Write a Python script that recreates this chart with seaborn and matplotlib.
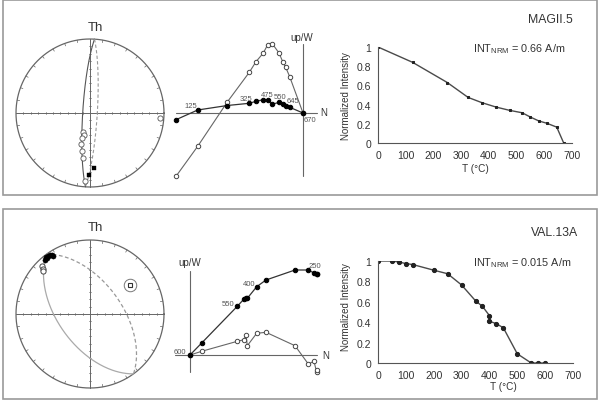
import numpy as np
import matplotlib
matplotlib.use("Agg")
import matplotlib.pyplot as plt
import seaborn as sns
from matplotlib.patches import Rectangle

W, H = 600, 402

# thermal demagnetisation curves
t_magii = [0, 125, 250, 325, 375, 425, 475, 520, 550, 580, 610, 645, 670]
int_magii = [1.0, 0.84, 0.63, 0.475, 0.42, 0.375, 0.34, 0.315, 0.27, 0.23, 0.205, 0.165, 0.0]
t_val = [0, 50, 75, 100, 125, 200, 250, 300, 350, 375, 400, 400, 425, 450, 500, 550, 575, 600]
int_val = [1.0, 1.0, 0.99, 0.975, 0.965, 0.91, 0.875, 0.765, 0.61, 0.555, 0.465, 0.41,
           0.385, 0.345, 0.09, 0.0, 0.0, 0.0]

# Zijderveld diagrams (arbitrary units)
zij_magii_n = [-127, -105.3, -75.7, -53.7, -47, -39.7, -35.3, -30.7, -24, -20, -17.3, -13.3, 0]
zij_magii_h = [-6.7, 3, 7.5, 9.7, 11.7, 13.3, 13.3, 8.7, 10.7, 8.7, 7.3, 5.7, 0]
zij_magii_v = [-63.3, -33.3, 11, 40.7, 51.3, 60, 68.3, 69.3, 60, 50.7, 45.7, 36.3, 0]
zij_magii_lab = ["125", "325", "475", "550", "645", "670"]
zij_magii_lab_idx = [1, 3, 6, 8, 11, 12]

zij_val_n = [0, 11.7, 47.3, 54, 56, 57.3, 66.7, 76, 105, 118.3, 124, 126.5, 127.3]
zij_val_h = [0, 12, 48.7, 56, 57.3, 56.7, 68.3, 75, 85, 85, 82, 81, 80.7]
zij_val_v = [0, 3.7, 13.7, 15.3, 20, 9.3, 21.7, 22.7, 9.3, -9, -6.3, -16.7, -14.7]
zij_val_lab = ["600", "550", "400", "250"]
zij_val_lab_idx = [0, 2, 6, 12]

# stereonets (equal-area, unit radius)
st_magii_open_x = [-0.099, -0.081, -0.112, -0.122, -0.112, -0.099, -0.068, 0.946]
st_magii_open_y = [-0.253, -0.297, -0.342, -0.419, -0.509, -0.613, -0.914, -0.072]
st_magii_fill_x = [0.058, -0.009]
st_magii_fill_y = [-0.748, -0.838]
gc_magii = (183.5, 82)

st_val_fill_x = [-0.595, -0.568, -0.541, -0.514, -0.50, -0.581, -0.608]
st_val_fill_y = [0.770, 0.784, 0.797, 0.797, 0.784, 0.757, 0.730]
st_val_open_x = [-0.653, -0.639, -0.631]
st_val_open_y = [0.653, 0.608, 0.577]
st_val_mean = (0.54, 0.39)
gc_val = (144, 55)

LINE = "#4a4a4a"
TXT = "#333333"


def fr(x0, y0, x1, y1):
    return [x0 / W, 1 - y1 / H, (x1 - x0) / W, (y1 - y0) / H]


def ftext(x, y, s, **kw):
    fig.text(x / W, 1 - y / H, s, color=TXT, **kw)


def great_circle(strike, dip, n=181):
    s = np.radians(strike)
    d = np.radians(dip)
    dd = s + np.pi / 2
    t = np.linspace(0, np.pi, n)
    sv = np.array([np.sin(s), np.cos(s), 0.0])
    dv = np.array([np.sin(dd) * np.cos(d), np.cos(dd) * np.cos(d), np.sin(d)])
    v = np.outer(np.cos(t), sv) + np.outer(np.sin(t), dv)
    plunge = np.arcsin(np.clip(v[:, 2], -1, 1))
    az = np.arctan2(v[:, 0], v[:, 1])
    r = np.sqrt(2) * np.sin((np.pi / 2 - plunge) / 2)
    return r * np.sin(az), r * np.cos(az)


def stereonet(ax):
    lim = 78 / 74
    ax.set_xlim(-lim, lim)
    ax.set_ylim(-lim, lim)
    ax.axis("off")
    a = np.linspace(0, 2 * np.pi, 361)
    ax.plot(np.cos(a), np.sin(a), color="#666666", lw=0.9)
    ax.plot([-1, 1], [0, 0], color="#666666", lw=0.7)
    ax.plot([0, 0], [-1, 1], color="#666666", lw=0.7)
    for k in np.arange(-0.9, 0.91, 0.1):
        if abs(k) < 1e-6:
            continue
        ax.plot([k, k], [-0.018, 0.018], color="#666666", lw=0.5)
        ax.plot([-0.018, 0.018], [k, k], color="#666666", lw=0.5)
    for ang in np.radians(np.arange(0, 360, 10)):
        ax.plot([np.cos(ang), 0.965 * np.cos(ang)], [np.sin(ang), 0.965 * np.sin(ang)],
                color="#666666", lw=0.5)


def demag(ax, t, m, ms, marker):
    sns.lineplot(x=t, y=m, ax=ax, estimator=None, sort=False, color=LINE, lw=1,
                 marker=marker, markersize=ms, markeredgecolor="#222222",
                 markerfacecolor="#222222")
    ax.set_xlim(0, 700)
    ax.set_ylim(0, 1)
    ax.set_xticks(range(0, 701, 100))
    ax.set_yticks([0, 0.2, 0.4, 0.6, 0.8, 1.0])
    ax.set_yticklabels(["0", "0.2", "0.4", "0.6", "0.8", "1"])
    ax.set_facecolor("none")
    for sp in ["top", "right"]:
        ax.spines[sp].set_visible(False)
    for sp in ["left", "bottom"]:
        ax.spines[sp].set_color("#555555")
        ax.spines[sp].set_linewidth(0.8)
    ax.spines["bottom"].set_clip_on(False)
    ax.tick_params(direction="out", length=3, width=0.6, colors="#555555",
                   labelcolor=TXT, labelsize=7.5, pad=2)
    ax.set_xlabel("")
    ax.set_ylabel("")


def zijderveld(ax, n, h, v, labels, lab_idx, offsets, xlim, ylim, hax, vax):
    ax.set_xlim(*xlim)
    ax.set_ylim(*ylim)
    ax.axis("off")
    ax.plot(hax, [0, 0], color="#666666", lw=0.8)
    ax.plot([0, 0], vax, color="#666666", lw=0.8)
    sns.lineplot(x=n, y=v, ax=ax, estimator=None, sort=False, color="#666666", lw=0.8,
                 marker="o", markersize=3.2, markerfacecolor="white",
                 markeredgecolor="#444444", markeredgewidth=0.7)
    sns.lineplot(x=n, y=h, ax=ax, estimator=None, sort=False, color="#333333", lw=0.9,
                 marker="o", markersize=3.2, markerfacecolor="black",
                 markeredgecolor="black")
    for s, i, (dx, dy) in zip(labels, lab_idx, offsets):
        ax.text(n[i] + dx, h[i] + dy, s, fontsize=5.5, color="#555555",
                ha="center", va="center")


sns.set_style("white")
plt.rcParams["font.family"] = ["Liberation Sans", "DejaVu Sans"]
plt.rcParams["mathtext.fontset"] = "custom"
plt.rcParams["mathtext.rm"] = "Liberation Sans"

fig = plt.figure(figsize=(6, 4.02), dpi=100)
fig.patch.set_facecolor("white")
fig.patches.append(Rectangle((3 / W, 1 - 196 / H), 594 / W, 195 / H, transform=fig.transFigure,
                             fill=False, ec="#9a9a9a", lw=1.2))
fig.patches.append(Rectangle((3 / W, 1 - 400 / H), 594 / W, 190 / H, transform=fig.transFigure,
                             fill=False, ec="#9a9a9a", lw=1.2))

# ---- top row: MAGII.5 ----
ax = fig.add_axes(fr(12, 36, 168, 192))
stereonet(ax)
gx, gy = great_circle(*gc_magii)
ax.plot(gx, gy, color="#555555", lw=0.8)
ax.plot(-gx, -gy, color="#999999", lw=0.8, ls=(0, (3, 2)))
sns.scatterplot(x=st_magii_open_x, y=st_magii_open_y, ax=ax, marker="o", s=14,
                facecolor="white", edgecolor="#555555", linewidth=0.6, zorder=5)
sns.scatterplot(x=st_magii_fill_x, y=st_magii_fill_y, ax=ax, marker="s", s=12,
                color="black", edgecolor="black", zorder=5)
ftext(95, 28, "Th", fontsize=9.5, ha="center", va="center")

ax = fig.add_axes(fr(165, 30, 335, 185))
zijderveld(ax, zij_magii_n, zij_magii_h, zij_magii_v, zij_magii_lab, zij_magii_lab_idx,
           [(-7, 5), (-3, 5), (0, 5), (1, 5.5), (3, 6.5), (7, -7)],
           (-138, 32), (-71, 84), [-127, 14], [-63, 69])
ftext(302, 38, "up/W", fontsize=7, ha="center", va="center")
ftext(320, 113, "N", fontsize=7, ha="left", va="center")

ax = fig.add_axes(fr(378, 48, 572, 144))
demag(ax, t_magii, int_magii, 1.6, "s")
ftext(573, 20, "MAGII.5", fontsize=8.8, ha="right", va="center")
ftext(473, 49, "INT$_{\\mathrm{NRM}}$ = 0.66 A/m", fontsize=7.8, ha="left", va="center")
ftext(346, 96, "Normalized Intensity", fontsize=7, ha="center", va="center", rotation=90)
ftext(475, 169, "T (\u00b0C)", fontsize=7.2, ha="center", va="center")

# ---- bottom row: VAL.13A ----
ax = fig.add_axes(fr(12, 237, 168, 393))
stereonet(ax)
gx, gy = great_circle(*gc_val)
ax.plot(gx, gy, color="#aaaaaa", lw=0.9)
ax.plot(-gx, -gy, color="#999999", lw=0.9, ls=(0, (3, 2)))
sns.scatterplot(x=st_val_open_x, y=st_val_open_y, ax=ax, marker="o", s=14,
                facecolor="white", edgecolor="#444444", linewidth=0.7, zorder=5)
sns.scatterplot(x=st_val_fill_x, y=st_val_fill_y, ax=ax, marker="o", s=14,
                color="black", edgecolor="black", zorder=6)
ax.plot(*st_val_mean, marker="o", ms=9, mfc="none", mec="#777777", mew=0.7, zorder=6)
ax.plot(*st_val_mean, marker="s", ms=3, mfc="none", mec="#333333", mew=0.8, zorder=6)
ftext(95, 228, "Th", fontsize=9.5, ha="center", va="center")

ax = fig.add_axes(fr(170, 255, 335, 380))
zijderveld(ax, zij_val_n, zij_val_h, zij_val_v, zij_val_lab, zij_val_lab_idx,
           [(-10, 3.7), (-9, 2.5), (-8, 3.5), (-2, 9)],
           (-20, 145), (-24, 101), [-15, 127], [-17, 84])
ftext(190, 263, "up/W", fontsize=7, ha="center", va="center")
ftext(322, 356, "N", fontsize=7, ha="left", va="center")

ax = fig.add_axes(fr(378, 262, 573, 364))
demag(ax, t_val, int_val, 3.0, "o")
ftext(578, 233, "VAL.13A", fontsize=8.8, ha="right", va="center")
ftext(473, 263, "INT$_{\\mathrm{NRM}}$ = 0.015 A/m", fontsize=7.8, ha="left", va="center")
ftext(346, 307, "Normalized Intensity", fontsize=7, ha="center", va="center", rotation=90)
ftext(503, 387, "T (\u00b0C)", fontsize=7.2, ha="center", va="center")

fig.savefig("out.png", dpi=100, facecolor="white")
